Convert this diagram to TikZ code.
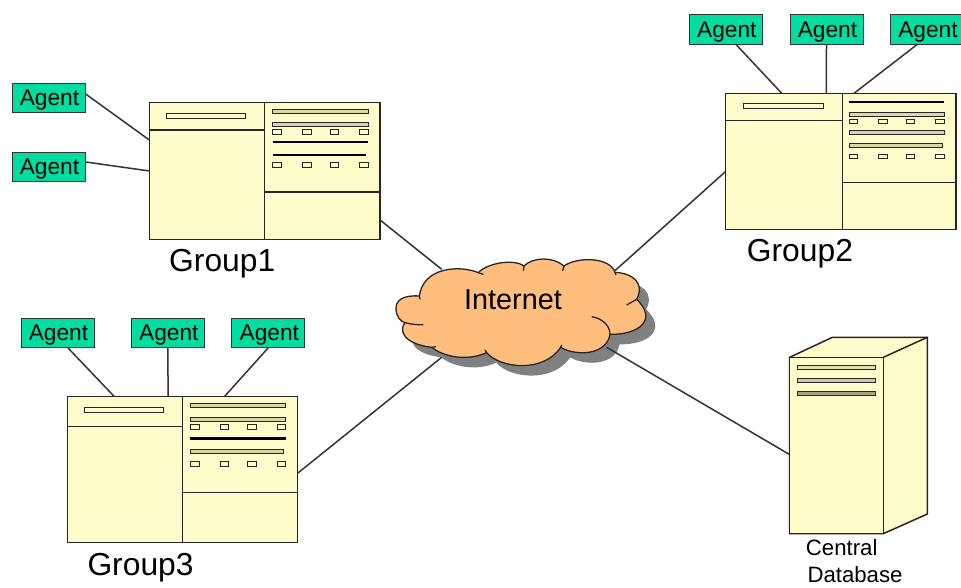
\documentclass[tikz,border=0pt]{standalone}
\usepackage{fontspec}
\setmainfont{Liberation Sans}
\definecolor{paneyellow}{HTML}{FFFCCC}
\definecolor{agentgreen}{HTML}{00DDA0}
\definecolor{cloudorange}{HTML}{FFBE7D}
\definecolor{cloudshadow}{HTML}{808080}
\definecolor{baryellow}{HTML}{D8D8A8}
\newcommand{\cloudoutline}{(118,168) .. controls (70,165) and (48,180) .. (48,205)
  .. controls (48,230) and (62,245) .. (75,248)
  .. controls (60,265) and (60,310) .. (155,322)
  .. controls (190,350) and (260,365) .. (320,338)
  .. controls (360,385) and (490,400) .. (542,322)
  .. controls (590,350) and (680,345) .. (690,283)
  .. controls (775,285) and (835,240) .. (770,178)
  .. controls (795,130) and (760,100) .. (705,97)
  .. controls (690,50) and (590,50) .. (552,78)
  .. controls (520,50) and (460,50) .. (432,78)
  .. controls (400,55) and (320,70) .. (295,98)
  .. controls (240,75) and (130,80) .. (118,168) -- cycle}
% four small slots in a row of a pane
\newcommand{\slotrow}[1]{\foreach \x in {123.3,153,180.5,210} {\draw[slot] (\x,#1-2.3) rectangle ++(8.5,4.6);}}
\tikzset{
  agent/.style={draw=black!80, line width=1pt, fill=agentgreen, minimum width=73pt, minimum height=29.5pt, inner sep=0pt, outer sep=0pt, text depth=0pt, execute at begin node=\hspace{2pt}, font=\fontsize{22.7}{27}\selectfont},
  groupbox/.style={draw=black!85, line width=1.3pt, fill=paneyellow, inner sep=0pt, outer sep=0pt, anchor=north west},
  pane/.style={draw=black!85, line width=1.3pt},
  slimbar/.style={draw=black!85, line width=1pt, fill=baryellow},
  heavybar/.style={draw=black, line width=2.8pt},
  slot/.style={draw=black!85, line width=1pt, fill=paneyellow},
  link/.style={draw=black!80, line width=1.5pt},
  grouplabel/.style={anchor=base west, inner sep=0pt, font=\fontsize{31.8}{36}\selectfont},
  dblabel/.style={anchor=base west, inner sep=0pt, font=\fontsize{22.2}{26}\selectfont}
}
\begin{document}
\begin{tikzpicture}[x=1pt, y=-1pt]
  \useasboundingbox (0,0) rectangle (961,587);
  % cloud
  \begin{scope}[shift={(380,240)}, x=.3333pt, y=-.3333pt]
    \fill[cloudshadow, xshift=9.5pt, yshift=-10pt] \cloudoutline;
    \draw[fill=cloudorange, draw=black!85, line width=1.3pt] \cloudoutline;
    \draw[black!85, line width=1.3pt] (75,248) .. controls (90,252) and (110,255) .. (130,254)
      (155,322) -- (168,320) (320,338) -- (315,330) (542,322) -- (545,315)
      (690,283) .. controls (690,255) and (665,235) .. (635,230)
      (770,178) -- (740,195) (705,97) -- (708,105) (552,78) -- (548,92)
      (432,78) -- (430,92) (295,98) -- (310,103) (118,168) -- (120,178);
    \coordinate (cl1) at (185,88);
    \coordinate (cl2) at (705,92);
    \coordinate (cl3) at (185,352);
    \coordinate (cl4) at (680,322);
  \end{scope}
  \node[anchor=base west, inner sep=0pt, font=\fontsize{28.8}{33}\selectfont] (inet) at (464,309.3) {Internet};

  % groups
  \node[groupbox, minimum width=230.5pt, minimum height=137pt] (g1) at (149.5,102.5) {};
  \node[groupbox, minimum width=230.3pt, minimum height=136pt] (g2) at (725.7,93.3) {};
  \node[groupbox, minimum width=230pt, minimum height=145.6pt] (g3) at (67.3,396.7) {};

  \begin{scope}[shift={(149.5,102.5)}]
    \draw[pane] (115,0) -- (115,137) (0,27.5) -- (115,27.5) (115,89.5) -- (230.5,89.5);
    \draw[slot] (16.5,11.2) rectangle (96,16);
    \foreach \y in {9.2,21.8} {\draw[slimbar] (123.2,\y-2) rectangle (218.5,\y+2);}
    \draw[heavybar] (123.2,39.5) -- (218.5,39.5);
    \draw[heavybar] (123.2,52.5) -- (216,52.5);
    \slotrow{29.2}
    \slotrow{62.5}
  \end{scope}
  \begin{scope}[shift={(725.7,93.3)}]
    \draw[pane] (116.6,0) -- (116.6,136) (0,27.4) -- (116.6,27.4) (116.6,89.4) -- (230.3,89.4);
    \draw[slot] (18,10) rectangle (97.3,14.8);
    \draw[heavybar] (123.3,8.7) -- (218.6,8.7);
    \foreach \y in {20.7,39} {\draw[slimbar] (123.3,\y-2) rectangle (218.6,\y+2);}
    \draw[slimbar] (123.3,50) rectangle (217,54);
    \slotrow{28}
    \slotrow{63}
  \end{scope}
  \begin{scope}[shift={(67.3,396.7)}]
    \draw[pane] (115,0) -- (115,145.6) (0,29.6) -- (115,29.6) (115,95.6) -- (230,95.6);
    \draw[slot] (16.7,10.9) rectangle (96,15.7);
    \foreach \y in {8.6,23} {\draw[slimbar] (123,\y-2) rectangle (218.4,\y+2);}
    \draw[heavybar] (123,41.6) -- (218.4,41.6);
    \draw[slimbar] (123,53) rectangle (216,57);
    \slotrow{30}
    \slotrow{67}
  \end{scope}
  \node[grouplabel] (g1label) at (169,271) {Group1};
  \node[grouplabel] (g2label) at (746.7,261) {Group2};
  \node[grouplabel] (g3label) at (87.3,575) {Group3};

  % agents
  \node[agent] (a1) at (48.5,98) {Agent};
  \node[agent] (a2) at (48.5,167) {Agent};
  \node[agent] (b1) at (725.8,29.5) {Agent};
  \node[agent] (b2) at (826.5,29.5) {Agent};
  \node[agent] (b3) at (927,29.5) {Agent};
  \node[agent] (c1) at (57.5,333) {Agent};
  \node[agent] (c2) at (167.8,333) {Agent};
  \node[agent] (c3) at (268.3,333) {Agent};

  % server
  \draw[fill=paneyellow, draw=black!85, line width=1.5pt] (789.7,357.3) -- (832.3,337.3) -- (927.3,337.3) -- (927.3,514) -- (883.3,533.7) -- (789.7,533.7) -- cycle;
  \node[draw=black!85, line width=1.5pt, fill=paneyellow, minimum width=93.6pt, minimum height=176.4pt, inner sep=0pt, outer sep=0pt, anchor=north west] (db) at (789.7,357.3) {};
  \draw[black!85, line width=1.5pt] (883.3,357.3) -- (927.3,337.3);
  \draw[slimbar, fill=paneyellow!90!black] (797,365.3) rectangle (875,369.3);
  \draw[slimbar, fill=paneyellow!80!black] (797,378) rectangle (875,382);
  \draw[slimbar, fill=paneyellow!65!black] (797,391) rectangle (875,395);
  \node[dblabel] (dbl1) at (805.7,555) {Central};
  \node[dblabel] (dbl2) at (807.3,582) {Database};

  % connectors
  \path (a1.7) edge[link] (g1.165.7);
  \path (a2.8) edge[link] (g1.west);
  \path (b1.-56.2) edge[link] (g2.131.5);
  \path (b2.south) edge[link] (g2.102.3);
  \path (b3.-123.2) edge[link] (g2.79);
  \path (c1.-55.6) edge[link] (g3.133.9);
  \path (c2.south) edge[link] (g3.101.3);
  \path (c3.south) edge[link] (g3.60.6);
  \path (g1.-23.4) edge[link] (cl1);
  \path (g2.185.5) edge[link] (cl2);
  \path (g3.-2.2) edge[link] (cl3);
  \path (cl4) edge[link] (db.191.5);
\end{tikzpicture}
\end{document}
